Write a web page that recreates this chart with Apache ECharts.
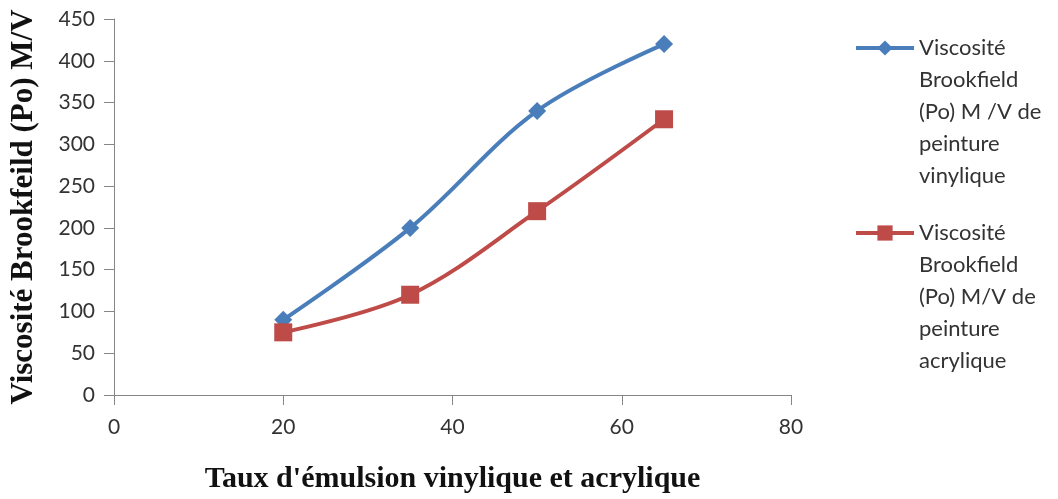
<!DOCTYPE html>
<html>
<head>
<meta charset="utf-8">
<script src="https://cdn.jsdelivr.net/npm/echarts@6/dist/echarts.min.js"></script>
<style>
  html, body { margin: 0; padding: 0; background: #fff; }
  #chart { width: 1058px; height: 499px; }
</style>
</head>
<body>
<div id="chart"></div>
<script>
// Emulsion rate (x) against Brookfield viscosity (y)
const tauxEmulsion = [20, 35, 50, 65];
const viscositeVinylique = [90, 200, 340, 420];
const viscositeAcrylique = [75, 120, 220, 330];

const nomVinylique = 'Viscosité\nBrookfield\n(Po) M /V de\npeinture\nvinylique';
const nomAcrylique = 'Viscosité\nBrookfield\n(Po) M/V de\npeinture\nacrylique';

const titreX = "Taux d'émulsion vinylique et acrylique";
const titreY = 'Viscosité Brookfeild (Po) M/V';

const pairs = (xs, ys) => xs.map((x, i) => [x, ys[i]]);

const BLUE = '#4a7ebb';
const RED = '#be4b48';
const AXIS = '#868686';
const LINE_H = 32;
const SANS = 'Lato, "Open Sans", sans-serif';
const SERIF = '"Liberation Serif", "Times New Roman", serif';

// Legend labels are centred on their icon; four blank leading lines put
// the first real line beside the icon instead.
const legendFormatter = name => '\n\n\n\n' + name;
const legendHalf = LINE_H * 9 / 2;
const legendCommon = {
  orient: 'vertical', left: 854, padding: 0,
  itemWidth: 58, itemHeight: 19, itemGap: 0,
  formatter: legendFormatter,
  lineStyle: { width: 4 },
  textStyle: { fontFamily: SANS, fontSize: 22, color: '#333', lineHeight: LINE_H }
};

const chart = echarts.init(document.getElementById('chart'), null, { renderer: 'canvas' });
chart.setOption({
  backgroundColor: '#fff',
  animation: false,
  grid: { left: 113, right: 267, top: 19, bottom: 97, containLabel: false },
  xAxis: {
    type: 'value', min: 0, max: 80, interval: 20,
    name: titreX, nameLocation: 'middle', nameGap: 69,
    nameTextStyle: { fontFamily: SERIF, fontWeight: 'bold', fontSize: 30, color: '#111' },
    axisLine: { lineStyle: { color: AXIS, width: 1 } },
    axisTick: { show: true, length: 10, lineStyle: { color: AXIS } },
    axisLabel: { margin: 22, fontFamily: SANS, fontSize: 21, color: '#333' },
    splitLine: { show: false }
  },
  yAxis: {
    type: 'value', min: 0, max: 450, interval: 50,
    name: titreY, nameLocation: 'middle', nameGap: 75, nameRotate: 90,
    nameTextStyle: { fontFamily: SERIF, fontWeight: 'bold', fontSize: 31, color: '#111' },
    axisLine: { show: true, lineStyle: { color: AXIS, width: 1 } },
    axisTick: { show: true, length: 10, lineStyle: { color: AXIS } },
    axisLabel: { margin: 19, fontFamily: SANS, fontSize: 21, color: '#333' },
    splitLine: { show: false }
  },
  legend: [
    Object.assign({}, legendCommon, { top: 48 - legendHalf, data: [nomVinylique] }),
    Object.assign({}, legendCommon, { top: 233 - legendHalf, data: [nomAcrylique] })
  ],
  series: [
    {
      name: nomVinylique, type: 'line', smooth: 0.35,
      data: pairs(tauxEmulsion, viscositeVinylique),
      symbol: 'diamond', symbolSize: 18,
      lineStyle: { color: BLUE, width: 4 },
      itemStyle: { color: BLUE }
    },
    {
      name: nomAcrylique, type: 'line', smooth: 0.35,
      data: pairs(tauxEmulsion, viscositeAcrylique),
      symbol: 'rect', symbolSize: 18,
      lineStyle: { color: RED, width: 4 },
      itemStyle: { color: RED }
    }
  ]
});
</script>
</body>
</html>
